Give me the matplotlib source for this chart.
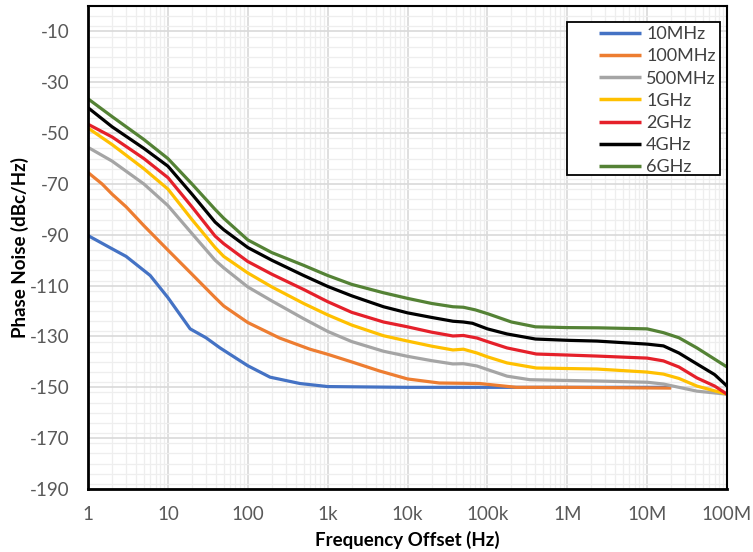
import numpy as np
import matplotlib.pyplot as plt
from matplotlib.patches import Rectangle
from matplotlib.ticker import FixedLocator, MultipleLocator, NullFormatter

plt.rcParams["font.family"] = ["Lato", "DejaVu Sans"]
plt.rcParams["axes.unicode_minus"] = False

# ----------------------------------------------------------------------
# Phase noise vs offset frequency, one trace per carrier frequency
# ----------------------------------------------------------------------
f_10m = [1, 2, 3, 6, 10, 19, 30, 45, 100, 190, 450, 1e3, 1e4, 1e5, 1e6, 2e7]
pn_10m = [-90.3, -95.5, -98.5, -106, -114.7, -127, -130.5, -134.5, -141.5,
          -146, -148.5, -149.7, -150, -150, -150, -150]

f_100m = [1, 1.5, 2, 3, 5, 10, 20, 39, 50, 100, 250, 600, 1e3, 2e3, 4.5e3, 1e4,
          2.5e4, 8e4, 2.3e5, 1e6, 2e7]
pn_100m = [-65.5, -70, -74, -79, -86.4, -96, -105.5, -114.7, -118, -124.5,
           -130.6, -135, -137, -140, -143.6, -146.7, -148.3, -148.5, -150,
           -150, -150.3]

f_500m = [1, 2, 5, 10, 20, 39, 50, 100, 200, 500, 1e3, 2e3, 5e3, 1e4, 2e4,
          3.7e4, 5e4, 7.4e4, 1e5, 1.76e5, 3.4e5, 1e6, 2.35e6, 1e7, 1.6e7,
          2.5e7, 4.2e7, 1e8]
pn_500m = [-55.6, -61, -70, -78.5, -89.5, -100, -103, -110.5, -116, -123,
           -128, -132, -135.8, -137.8, -139.5, -140.8, -140.7, -141.6, -143,
           -145.6, -147, -147.3, -147.5, -148, -148.7, -150, -151.5, -152.7]

f_1g = [1, 2, 5, 10, 20, 39, 50, 100, 200, 500, 1e3, 2e3, 5e3, 1e4, 2e4,
        3.7e4, 5e4, 7.4e4, 1e5, 1.76e5, 4.1e5, 1e6, 2.35e6, 1e7, 1.6e7, 2.5e7,
        4.2e7, 1e8]
pn_1g = [-48, -54.5, -64, -72, -84, -95, -98.5, -105, -110.5, -117,
         -121.5, -125.5, -129.7, -131.8, -133.8, -135.3, -135, -136.5, -138,
         -140.4, -142.4, -142.6, -142.8, -144, -144.8, -146.5, -149.5, -152.7]

f_2g = [1, 2, 5, 10, 20, 39, 50, 100, 200, 500, 1e3, 2e3, 5e3, 1e4, 2e4,
        3.7e4, 5e4, 7.4e4, 1e5, 1.76e5, 4.1e5, 1e6, 2.35e6, 1e7, 1.6e7, 2.5e7,
        4.2e7, 7e7, 1e8]
pn_2g = [-46.5, -51.5, -60, -67.5, -79, -90.5, -93.5, -100.5, -105.5, -111.5,
         -116.3, -120.5, -124.3, -126.2, -128.3, -129.8, -129.6, -130.6, -132,
         -134.5, -136.9, -137.3, -137.7, -138.5, -139.6, -142, -146.3, -149.5,
         -152.7]

f_4g = [1, 2, 5, 10, 20, 39, 50, 100, 200, 500, 1e3, 2e3, 5e3, 1e4, 2e4,
        3.7e4, 5e4, 6.5e4, 1e5, 1.76e5, 4e5, 1e6, 2.35e6, 1e7, 1.6e7, 2.5e7,
        4.2e7, 7e7, 1e8]
pn_4g = [-40, -47.5, -56, -63, -74, -85, -88, -95, -100, -106, -110.3,
         -114, -118.3, -120.7, -122.5, -124, -124.3, -124.8, -127, -129,
         -131, -131.5, -131.8, -133, -133.7, -136.5, -140.8, -145, -149.5]

f_6g = [1, 2, 5, 10, 20, 39, 50, 100, 200, 500, 1e3, 2e3, 5e3, 1e4, 2e4,
        3.7e4, 5e4, 7e4, 1e5, 2e5, 4e5, 1e6, 2.5e6, 1e7, 1.6e7, 2.5e7, 4.2e7,
        1e8]
pn_6g = [-36.5, -43.5, -52.5, -60, -70, -80, -83.5, -92, -97, -102,
         -106, -109.5, -112.8, -115, -117, -118.3, -118.5, -119.5, -121, -124.3,
         -126.2, -126.5, -126.6, -127, -128.5, -130.5, -134.5, -142]

series = [
    ("10MHz", f_10m, pn_10m, "#4472C4"),
    ("100MHz", f_100m, pn_100m, "#ED7D31"),
    ("500MHz", f_500m, pn_500m, "#A5A5A5"),
    ("1GHz", f_1g, pn_1g, "#FFC000"),
    ("2GHz", f_2g, pn_2g, "#E5202A"),
    ("4GHz", f_4g, pn_4g, "#000000"),
    ("6GHz", f_6g, pn_6g, "#548235"),
]

x_ticks = [1, 10, 100, 1e3, 1e4, 1e5, 1e6, 1e7, 1e8]
x_labels = ["1", "10", "100", "1k", "10k", "100k", "1M", "10M", "100M"]
y_ticks = list(range(-190, 0, 20))

fig = plt.figure(figsize=(7.53, 5.52), dpi=100)
ax = fig.add_axes([0.1169, 0.1141, 0.8486, 0.8750])

for name, f, pn, color in series:
    ax.plot(f, pn, color=color, lw=2.3, label=name, solid_capstyle="butt")

ax.set_xscale("log")
ax.set_xlim(1, 1e8)
ax.set_ylim(-190, 0)

ax.xaxis.set_major_locator(FixedLocator(x_ticks))
ax.set_xticklabels(x_labels)
minor_x = [m * 10 ** d for d in range(8) for m in range(2, 10)]
ax.xaxis.set_minor_locator(FixedLocator(minor_x))
ax.xaxis.set_minor_formatter(NullFormatter())
ax.set_yticks(y_ticks)
ax.yaxis.set_minor_locator(MultipleLocator(4))

ax.grid(which="major", color="#D9D9D9", lw=1.2)
ax.grid(which="minor", color="#EEEEEE", lw=0.9)
ax.set_axisbelow(True)

ax.tick_params(which="both", length=0, labelsize=13.5, labelcolor="#595959")
ax.tick_params(axis="y", pad=13)
ax.tick_params(axis="x", pad=12)

for side in ["left", "bottom"]:
    ax.spines[side].set_linewidth(2.0)
for side in ["top", "right"]:
    ax.spines[side].set_linewidth(1.5)

ax.set_xlabel("Frequency Offset (Hz)", fontsize=13.5, fontweight="bold", labelpad=6)
ax.set_ylabel("Phase Noise (dBc/Hz)", fontsize=13.5, fontweight="bold")
ax.yaxis.set_label_coords(-0.092, 0.5)

# legend box drawn separately so the inner padding can be set freely
ax.add_patch(Rectangle((0.7496, 0.650), 0.2394, 0.317, transform=ax.transAxes,
                       fill=True, facecolor="white", edgecolor="black", lw=1.3,
                       zorder=4))
leg = ax.legend(loc="upper left", bbox_to_anchor=(0.7786, 0.986), fontsize=13,
                frameon=False, handlelength=2.3, handletextpad=0.3,
                labelspacing=0.34, borderpad=0.25, labelcolor="#404040")
leg.set_zorder(5)
for line in leg.get_lines():
    line.set_linewidth(2.5)

plt.savefig("out.png", dpi=100)
